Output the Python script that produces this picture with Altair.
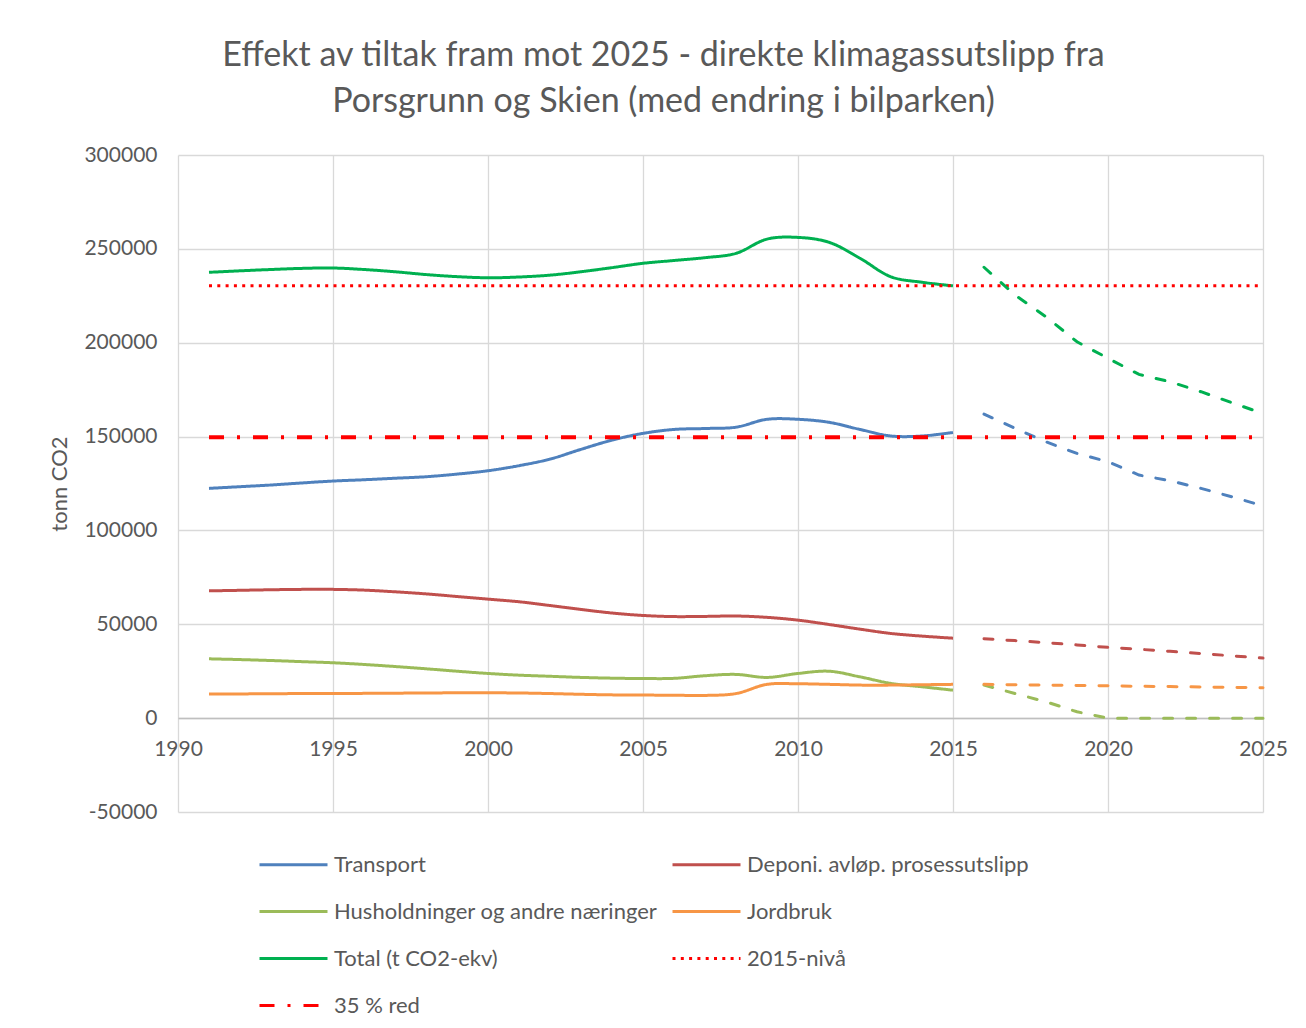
import altair as alt
import pandas as pd

# ---- data ----
years_hist = [1991, 1992, 1993, 1994, 1995, 1996, 1997, 1998, 1999, 2000,
              2001, 2002, 2003, 2004, 2005, 2006, 2007, 2008, 2009, 2010,
              2011, 2012, 2013, 2014, 2015]
transport = [122400, 123300, 124200, 125300, 126300, 127000, 127800, 128600, 130000, 131800,
             134500, 138000, 143200, 148100, 151700, 153800, 154300, 155000, 159200, 159200,
             157600, 153800, 150300, 150300, 152200]
deponi = [67800, 68100, 68400, 68600, 68600, 68200, 67300, 66200, 64800, 63400,
          62000, 60000, 57900, 56000, 54700, 54100, 54200, 54400, 53700, 52200,
          49900, 47400, 45100, 43700, 42600]
husholdninger = [31600, 31200, 30700, 30100, 29500, 28600, 27500, 26300, 25000, 23800,
                 22900, 22300, 21700, 21300, 21100, 21200, 22600, 23300, 21700, 23800,
                 25000, 22000, 18500, 16700, 14900]
jordbruk = [12800, 12900, 13000, 13100, 13100, 13200, 13300, 13400, 13500, 13500,
            13400, 13100, 12700, 12400, 12300, 12200, 12100, 13100, 18000, 18300,
            18000, 17600, 17600, 17800, 18000]
total = [237500, 238300, 239000, 239600, 239800, 239000, 237800, 236300, 235200, 234600,
         235000, 236000, 237800, 240000, 242300, 243800, 245300, 247600, 255200, 256100,
         253500, 245000, 235100, 232200, 230300]

years_proj = [2016, 2017, 2018, 2019, 2020, 2021, 2022, 2023, 2024, 2025]
transport_proj = [162000, 154400, 147200, 141000, 136600, 129500, 126500, 122400, 117900, 113100]
deponi_proj = [42300, 41300, 40200, 39000, 37700, 36700, 35600, 34400, 33200, 32000]
husholdninger_proj = [17600, 13100, 8700, 3400, 0, 0, 0, 0, 0, 0]
jordbruk_proj = [18000, 17800, 17600, 17400, 17200, 17000, 16800, 16600, 16400, 16200]
total_proj = [240200, 225400, 213800, 200500, 191700, 183100, 179200, 173900, 168000, 162300]

ref_years = [1991, 2025]
niva_2015 = [230300, 230300]
red_35 = [149700, 149700]

S_TRANSPORT = "Transport"
S_DEPONI = "Deponi. avløp. prosessutslipp"
S_HUSH = "Husholdninger og andre næringer"
S_JORD = "Jordbruk"
S_TOTAL = "Total (t CO2-ekv)"
S_NIVA = "2015-nivå"
S_RED = "35 % red"

# legend is filled column by column -> order so rows read as in the reference
legend_order = [S_TRANSPORT, S_HUSH, S_TOTAL, S_RED, S_DEPONI, S_JORD, S_NIVA]
legend_colors = ["#4F81BD", "#9BBB59", "#00B050", "#FF0000", "#C0504D", "#F79646", "#FF0000"]
legend_dashes = [[1, 0], [1, 0], [1, 0], [15, 13, 3, 13], [1, 0], [1, 0], [3, 5.3]]

x_ticks = [1990, 1995, 2000, 2005, 2010, 2015, 2020, 2025]
y_ticks = [-50000, 0, 50000, 100000, 150000, 200000, 250000, 300000]

# ---- tables ----
def long(years, values, name):
    return pd.DataFrame({"year": years, "value": values, "series": name})

hist = pd.concat([
    long(years_hist, transport, S_TRANSPORT),
    long(years_hist, deponi, S_DEPONI),
    long(years_hist, husholdninger, S_HUSH),
    long(years_hist, jordbruk, S_JORD),
    long(years_hist, total, S_TOTAL),
    long(ref_years, niva_2015, S_NIVA),
])
red = long(ref_years, red_35, S_RED)
proj = pd.concat([
    long(years_proj, transport_proj, S_TRANSPORT),
    long(years_proj, deponi_proj, S_DEPONI),
    long(years_proj, husholdninger_proj, S_HUSH),
    long(years_proj, jordbruk_proj, S_JORD),
    long(years_proj, total_proj, S_TOTAL),
])

FONT = "Lato"
GREY = "#595959"

x_enc = alt.X("year:Q",
              scale=alt.Scale(domain=[1990, 2025], nice=False, zero=False),
              axis=alt.Axis(values=x_ticks, labelExpr="datum.value + ''", title=None,
                            offset=-94, ticks=False, domainColor="#bfbfbf",
                            domainWidth=1.3, labelPadding=20, labelFlush=False))
y_enc = alt.Y("value:Q",
              scale=alt.Scale(domain=[-50000, 300000], nice=False),
              axis=alt.Axis(values=y_ticks, labelExpr="datum.value + ''",
                            title="tonn CO2", ticks=False, domain=False,
                            labelPadding=21, titlePadding=12))
legend_def = alt.Legend(title=None, columns=2, orient="none",
                        legendX=80, legendY=674)
color_enc = alt.Color("series:N",
                      scale=alt.Scale(domain=legend_order, range=legend_colors),
                      legend=legend_def)
dash_enc = alt.StrokeDash("series:N",
                          scale=alt.Scale(domain=legend_order, range=legend_dashes),
                          legend=legend_def)

hist_layer = alt.Chart(hist).mark_line(strokeWidth=3, interpolate="catmull-rom").encode(
    x=x_enc, y=y_enc, color=color_enc, strokeDash=dash_enc, detail="series:N")
red_layer = alt.Chart(red).mark_line(strokeWidth=4).encode(
    x=x_enc, y=y_enc, color=color_enc, strokeDash=dash_enc)
proj_layer = alt.Chart(proj).mark_line(strokeWidth=3, strokeDash=[9, 14],
                                       strokeCap="round").encode(
    x=x_enc, y=y_enc,
    color=alt.Color("series:N",
                    scale=alt.Scale(domain=legend_order, range=legend_colors),
                    legend=None),
    detail="series:N")

chart = alt.layer(hist_layer, proj_layer, red_layer).properties(
    width=1085, height=657,
    title=alt.TitleParams(
        ["Effekt av tiltak fram mot 2025 - direkte klimagassutslipp fra",
         "Porsgrunn og Skien (med endring i bilparken)"],
        font=FONT, fontSize=34, fontWeight="normal", color=GREY,
        anchor="middle", dx=-57, offset=25, lineHeight=46),
    autosize=alt.AutoSizeParams(type="none"),
    padding={"left": 170, "top": 147, "right": 35, "bottom": 208},
).configure_view(stroke=None).configure_axis(
    labelFont=FONT, labelFontSize=21, labelColor=GREY,
    titleFont=FONT, titleFontSize=22, titleColor=GREY, titleFontWeight="normal",
    gridColor="#d9d9d9", gridWidth=1.3,
).configure_legend(
    labelFont=FONT, labelFontSize=22, labelColor=GREY, labelLimit=600,
    symbolType="stroke", symbolSize=4624, symbolStrokeWidth=3,
    rowPadding=-30, columnPadding=8, labelOffset=5,
)

chart.save("out.html", embed_options={"renderer": "svg", "actions": False})
